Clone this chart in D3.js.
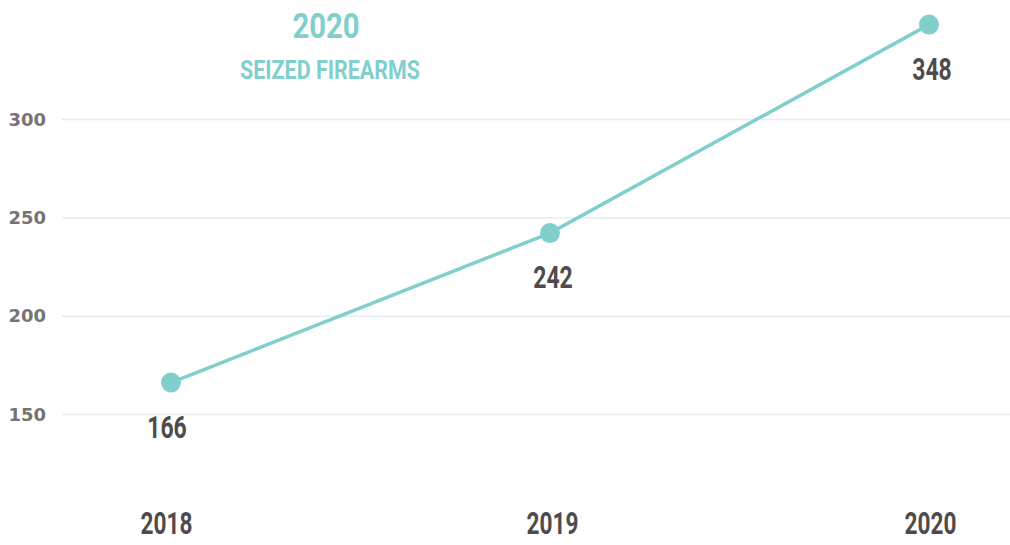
<!DOCTYPE html>
<html>
<head>
<meta charset="utf-8">
<script src="https://cdn.jsdelivr.net/npm/d3@7"></script>
<style>
  html, body { margin: 0; padding: 0; background: #ffffff; }
  svg { display: block; }
</style>
</head>
<body>
<svg id="chart" width="1010" height="545"></svg>
<script>
// Seized firearms per year
const years = ["2018", "2019", "2020"];
const seized = [166, 242, 348];
const yTicks = [150, 200, 250, 300];
const titleLines = ["2020", "SEIZED FIREARMS"];

const W = 1010, H = 545;
const teal = "#80cfcc";
const dark = "#4f4b4d";
const condensed = "Roboto, 'Liberation Sans', sans-serif";

const svg = d3.select("#chart");

const x = d3.scalePoint().domain(years).range([171, 929]);
const y = d3.scaleLinear().domain([150, 300]).range([414, 119]);

// Squeeze a text run into a condensed width
function squeeze(sel, widthPerChar) {
  sel.each(function () {
    const n = this.textContent.length;
    d3.select(this).attr("textLength", n * widthPerChar).attr("lengthAdjust", "spacingAndGlyphs");
  });
}

// Horizontal gridlines with tick labels
const yAxis = d3.axisLeft(y).tickValues(yTicks).tickSize(-(W - 62)).tickPadding(14);
const gy = svg.append("g").attr("transform", "translate(62,0)").call(yAxis);
gy.select(".domain").remove();
gy.selectAll(".tick line").attr("stroke", "#e3edf1").attr("stroke-width", 1.5);
gy.selectAll(".tick text")
  .attr("fill", "#777375")
  .attr("font-family", "'DejaVu Sans', sans-serif")
  .attr("font-weight", 700)
  .attr("font-size", 17)
  .attr("dy", "0.36em")
  .attr("x", -16)
  .call(squeeze, 12.5);

// Year labels along the bottom
const xAxis = d3.axisBottom(x).tickSize(0).tickPadding(0);
const gx = svg.append("g").attr("transform", "translate(0,534)").call(xAxis);
gx.select(".domain").remove();
gx.selectAll(".tick text")
  .attr("fill", dark)
  .attr("font-family", condensed)
  .attr("font-weight", 700)
  .attr("font-size", 31)
  .attr("dy", 0)
  .attr("x", (d, i) => [-5, 2, 1][i])
  .call(squeeze, 13);

// Line
const pts = years.map((yr, i) => ({ yr, v: seized[i] }));
svg.append("path")
  .datum(pts)
  .attr("fill", "none")
  .attr("stroke", teal)
  .attr("stroke-width", 3.5)
  .attr("d", d3.line().x(d => x(d.yr)).y(d => y(d.v)));

// Markers
svg.selectAll("circle.pt")
  .data(pts)
  .join("circle")
  .attr("class", "pt")
  .attr("cx", d => x(d.yr))
  .attr("cy", d => y(d.v))
  .attr("r", 10)
  .attr("fill", teal);

// Value labels below markers
const labelDx = [-4, 3, 3];
svg.selectAll("text.val")
  .data(pts)
  .join("text")
  .attr("class", "val")
  .attr("x", (d, i) => x(d.yr) + labelDx[i])
  .attr("y", d => y(d.v) + 55)
  .attr("text-anchor", "middle")
  .attr("fill", dark)
  .attr("font-family", condensed)
  .attr("font-weight", 700)
  .attr("font-size", 32)
  .text(d => d.v)
  .call(squeeze, 13.2);

// Title block
svg.append("text")
  .attr("x", 326).attr("y", 38)
  .attr("text-anchor", "middle")
  .attr("fill", teal)
  .attr("font-family", condensed)
  .attr("font-weight", 700)
  .attr("font-size", 35)
  .text(titleLines[0])
  .call(squeeze, 16.8);
svg.append("text")
  .attr("x", 330).attr("y", 79)
  .attr("text-anchor", "middle")
  .attr("fill", teal)
  .attr("font-family", condensed)
  .attr("font-weight", 700)
  .attr("font-size", 26)
  .text(titleLines[1])
  .call(squeeze, 12);
</script>
</body>
</html>
